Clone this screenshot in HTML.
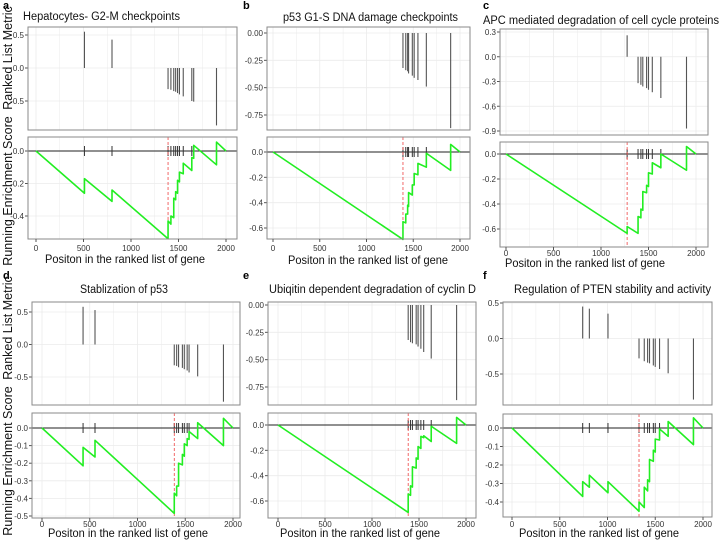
<!DOCTYPE html>
<html><head><meta charset="utf-8"><style>
html,body{margin:0;padding:0;background:#fff;}
svg{display:block;font-family:"Liberation Sans",sans-serif;}
</style></head><body>
<svg id="fig" width="720" height="540" viewBox="0 0 720 540"></svg>
<script>
// ---- data ----
const titles = ["Hepatocytes- G2-M checkpoints","p53 G1-S DNA damage checkpoints","APC mediated degradation of cell cycle proteins","Stablization of p53","Ubiqitin dependent degradation of cyclin D","Regulation of PTEN stability and activity"];
const panelLetters = ["a","b","c","d","e","f"];
const xTicks = [0,500,1000,1500,2000];
const hitsA = [510,800,1390,1420,1450,1470,1490,1510,1550,1640,1660,1900];
const metricA = [0.55,0.43,-0.32,-0.33,-0.35,-0.36,-0.38,-0.40,-0.43,-0.50,-0.51,-0.87];
const esLowA = [-0.26,-0.31,-0.54,-0.45,-0.41,-0.30,-0.26,-0.19,-0.14,-0.12,-0.045,-0.085];
const esHighA = [-0.17,-0.24,-0.43,-0.40,-0.29,-0.25,-0.18,-0.13,-0.075,-0.04,0.035,0.055];
const hitsB = [1390,1420,1440,1450,1490,1510,1550,1640,1900];
const metricB = [-0.32,-0.34,-0.35,-0.37,-0.39,-0.41,-0.43,-0.49,-0.87];
const esLowB = [-0.69,-0.56,-0.49,-0.43,-0.34,-0.26,-0.18,-0.12,-0.145];
const esHighB = [-0.55,-0.49,-0.42,-0.32,-0.26,-0.17,-0.09,-0.01,0.06];
const hitsC = [1275,1390,1420,1440,1480,1500,1540,1630,1900];
const metricC = [0.26,-0.32,-0.34,-0.36,-0.38,-0.40,-0.43,-0.50,-0.87];
const esLowC = [-0.635,-0.635,-0.51,-0.45,-0.31,-0.26,-0.16,-0.11,-0.13];
const esHighC = [-0.58,-0.50,-0.44,-0.30,-0.25,-0.15,-0.07,0.0,0.06];
const hitsD = [430,555,1385,1410,1430,1470,1490,1520,1540,1630,1900];
const metricD = [0.58,0.53,-0.32,-0.33,-0.35,-0.36,-0.38,-0.40,-0.43,-0.49,-0.88];
const esLowD = [-0.215,-0.165,-0.485,-0.385,-0.33,-0.21,-0.16,-0.10,-0.065,-0.06,-0.10];
const esHighD = [-0.11,-0.07,-0.37,-0.33,-0.20,-0.15,-0.09,-0.06,-0.02,0.03,0.055];
const hitsE = [1385,1410,1430,1470,1490,1520,1550,1630,1900];
const metricE = [-0.32,-0.34,-0.35,-0.36,-0.38,-0.40,-0.43,-0.49,-0.87];
const esLowE = [-0.69,-0.555,-0.49,-0.34,-0.27,-0.185,-0.10,-0.13,-0.145];
const esHighE = [-0.545,-0.48,-0.33,-0.26,-0.17,-0.09,-0.085,-0.01,0.06];
const hitsF = [740,810,1005,1330,1385,1420,1440,1480,1500,1545,1635,1900];
const metricF = [0.45,0.42,0.35,-0.28,-0.32,-0.34,-0.35,-0.38,-0.40,-0.43,-0.49,-0.86];
const esLowF = [-0.37,-0.32,-0.35,-0.45,-0.43,-0.34,-0.29,-0.18,-0.13,-0.065,-0.045,-0.09];
const esHighF = [-0.29,-0.255,-0.29,-0.40,-0.32,-0.28,-0.17,-0.12,-0.06,-0.005,0.035,0.055];
const topTicksA = [0.5,0,-0.5], lowTicksA = [0,-0.2,-0.4];
const topTicksB = [0,-0.25,-0.5,-0.75], lowTicksB = [0,-0.2,-0.4,-0.6];
const topTicksC = [0.3,0,-0.3,-0.6,-0.9], lowTicksC = [0,-0.2,-0.4,-0.6];
const topTicksD = [0.5,0,-0.5], lowTicksD = [0,-0.1,-0.2,-0.3,-0.4,-0.5];
const topTicksE = [0,-0.25,-0.5,-0.75], lowTicksE = [0,-0.2,-0.4,-0.6];
const topTicksF = [0.5,0,-0.5], lowTicksF = [0,-0.1,-0.2,-0.3,-0.4];
const nGenes = 2000;

// ---- layout ----
const layouts = [
 {ox:0,oy:0,x0:36,x1:226,bl:28,br:237,tt:27,tb:130,tv:[0.5,-0.5],tp:[35,101],lt:137,lb:239,lv:[0,-0.4],lp:[151,216],tickY:251,xtY:263,xtX:125,titleX:23,titleW:157,titleY:20,yTitles:true,c1:58,c2:191,dec:1},
 {ox:240,oy:0,x0:273,x1:460,bl:267,br:470,tt:27,tb:130,tv:[0,-0.75],tp:[33,115],lt:137,lb:239,lv:[0,-0.6],lp:[152,228],tickY:251,xtY:264,xtX:368,titleX:283,titleW:175,titleY:21,yTitles:false,dec:2},
 {ox:480,oy:0,x0:506,x1:696,bl:500,br:708,tt:29,tb:135,tv:[0.3,-0.9],tp:[32,131],lt:142,lb:247,lv:[0,-0.6],lp:[154,229],tickY:256,xtY:267,xtX:585,titleX:483,titleW:236,titleY:24,yTitles:false,dec:1},
 {ox:0,oy:270,x0:42,x1:233,bl:32,br:240,tt:302,tb:405,tv:[0.5,-0.5],tp:[312,377],lt:413,lb:518,lv:[0,-0.5],lp:[428,516],tickY:527,xtY:537,xtX:128,titleX:80,titleW:88,titleY:293,yTitles:true,c1:328,c2:461,dec:1},
 {ox:240,oy:270,x0:278,x1:466,bl:268,br:476,tt:302,tb:405,tv:[0,-0.75],tp:[305,387],lt:413,lb:518,lv:[0,-0.6],lp:[425,501],tickY:527,xtY:537,xtX:360,titleX:269,titleW:207,titleY:293,yTitles:false,dec:2},
 {ox:480,oy:270,x0:512,x1:703,bl:503,br:712,tt:302,tb:405,tv:[0.5,-0.5],tp:[303,374],lt:414,lb:517,lv:[0,-0.4],lp:[428,502],tickY:527,xtY:537,xtX:599,titleX:514,titleW:197,titleY:293,yTitles:false,dec:1}
];
const data = [
 [hitsA,metricA,esLowA,esHighA,topTicksA,lowTicksA],
 [hitsB,metricB,esLowB,esHighB,topTicksB,lowTicksB],
 [hitsC,metricC,esLowC,esHighC,topTicksC,lowTicksC],
 [hitsD,metricD,esLowD,esHighD,topTicksD,lowTicksD],
 [hitsE,metricE,esLowE,esHighE,topTicksE,lowTicksE],
 [hitsF,metricF,esLowF,esHighF,topTicksF,lowTicksF]
];

const NS="http://www.w3.org/2000/svg";
const svg=document.getElementById('fig');
function mk(tag,attrs,parent,text){const e=document.createElementNS(NS,tag);for(const k in attrs)e.setAttribute(k,attrs[k]);if(text!==undefined)e.textContent=text;(parent||svg).appendChild(e);return e;}
function lin(v,p){return x=>p[0]+(x-v[0])*(p[1]-p[0])/(v[1]-v[0]);}
function fmt(v,d){let s=v.toFixed(d);if(parseFloat(s)===0)s=(0).toFixed(d);return s;}

layouts.forEach((L,i)=>{
  const [hits,metric,esLow,esHigh,topTicks,lowTicks]=data[i];
  const g=mk('g',{});
  
  
  const xs=lin([0,nGenes],[L.x0,L.x1]);
  const yt=lin(L.tv,L.tp);
  const yl=lin(L.lv,L.lp);
  const tt=mk('text',{x:L.titleX,y:L.titleY,'font-size':11.5,textLength:L.titleW,lengthAdjust:'spacingAndGlyphs',fill:'#111'},g,titles[i]);
  
  
  [[L.tt,L.tb,'metric-plot'],[L.lt,L.lb,'enrichment-plot']].forEach(([t,b,nm])=>{
    const box=mk('g',{},g);
    
    
    mk('rect',{x:L.bl,y:t,width:L.br-L.bl,height:b-t,fill:'#fff'},box);
    for(let v=0;v<=nGenes;v+=250){const X=xs(v);mk('line',{x1:X,x2:X,y1:t,y2:b,stroke:'#ebebeb','stroke-width':v%500?0.5:0.8},box);}
  });
  topTicks.forEach(v=>{const Y=yt(v);mk('line',{x1:L.bl,x2:L.br,y1:Y,y2:Y,stroke:'#ebebeb','stroke-width':0.8},g);
    mk('line',{x1:L.bl-3,x2:L.bl,y1:Y,y2:Y,stroke:'#555'},g);
    const tl=mk('text',{x:L.bl-4,y:Y+3,'font-size':8,'text-anchor':'end',fill:'#333'},g,fmt(v,L.dec));
    
    });
  lowTicks.forEach(v=>{const Y=yl(v);mk('line',{x1:L.bl,x2:L.br,y1:Y,y2:Y,stroke:'#ebebeb','stroke-width':0.8},g);
    mk('line',{x1:L.bl-3,x2:L.bl,y1:Y,y2:Y,stroke:'#555'},g);
    const tl=mk('text',{x:L.bl-4,y:Y+3,'font-size':8,'text-anchor':'end',fill:'#333'},g,fmt(v,1));
    
    });
  hits.forEach((h,k)=>{const b=mk('line',{x1:xs(h),x2:xs(h),y1:yt(0),y2:yt(metric[k]),stroke:'#555','stroke-width':1.1},g);
    
    });
  mk('line',{x1:L.bl,x2:L.br,y1:yl(0),y2:yl(0),stroke:'#222','stroke-width':0.9},g);
  hits.forEach(h=>{const t=mk('line',{x1:xs(h),x2:xs(h),y1:yl(0)-5,y2:yl(0)+5,stroke:'#333','stroke-width':1},g);
    
    });
  let mi=0;esLow.forEach((v,k)=>{if(v<esLow[mi])mi=k;});
  const rl=mk('line',{x1:xs(hits[mi]),x2:xs(hits[mi]),y1:L.lt,y2:L.lb,stroke:'#ee4444','stroke-width':0.8,'stroke-dasharray':'3,2'},g);
  
  
  let d='M'+xs(0)+','+yl(0);
  hits.forEach((h,k)=>{d+=' L'+xs(h)+','+yl(esLow[k])+' L'+xs(h)+','+yl(esHigh[k]);});
  d+=' L'+xs(nGenes)+','+yl(0);
  const es=mk('path',{d:d,fill:'none',stroke:'#22ee22','stroke-width':1.6,'stroke-linejoin':'round'},g);
  
  
  mk('rect',{x:L.bl,y:L.tt,width:L.br-L.bl,height:L.tb-L.tt,fill:'none',stroke:'#8a8a8a','stroke-width':1},g);
  mk('rect',{x:L.bl,y:L.lt,width:L.br-L.bl,height:L.lb-L.lt,fill:'none',stroke:'#8a8a8a','stroke-width':1},g);
  xTicks.forEach(v=>{const X=xs(v);mk('line',{x1:X,x2:X,y1:L.lb,y2:L.lb+3,stroke:'#555'},g);
    const tl=mk('text',{x:X,y:L.tickY,'font-size':8,'text-anchor':'middle',fill:'#333'},g,String(v));
    
    });
  const xt=mk('text',{x:L.xtX-80,y:L.xtY,'font-size':12,textLength:160,lengthAdjust:'spacingAndGlyphs',fill:'#111'},g,'Positon in the ranked list of gene');
  
  
  if(L.yTitles){
    const y1=mk('text',{x:0,y:0,'font-size':12.5,'text-anchor':'middle',fill:'#111',transform:'translate(12,'+L.c1+') rotate(-90)'},g,'Ranked List Metric');
    
    
    const y2=mk('text',{x:0,y:0,'font-size':12.5,'text-anchor':'middle',fill:'#111',transform:'translate(12,'+L.c2+') rotate(-90)'},g,'Running Enrichment Score');
    
    
  }
  const let_=mk('text',{x:L.ox+3,y:L.oy+9,'font-size':11,'font-weight':'bold',fill:'#000'},g,panelLetters[i]);
  
  
});
</script>
</body></html>
